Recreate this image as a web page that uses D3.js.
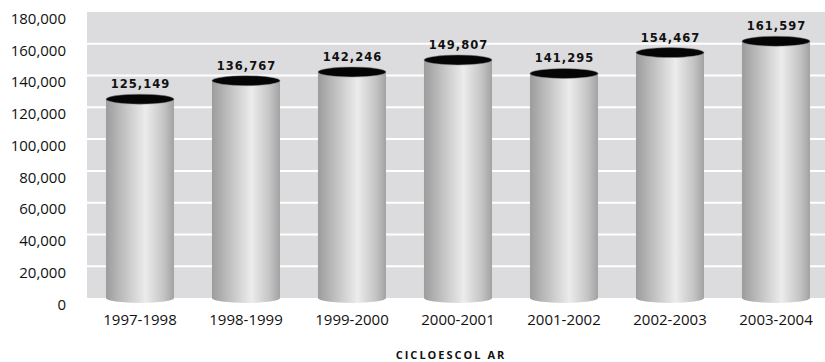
<!DOCTYPE html>
<html><head><meta charset="utf-8">
<script src="https://cdn.jsdelivr.net/npm/d3@7"></script>
<style>body{margin:0;background:#fff}svg{display:block}</style>
</head><body><svg id="c" width="825" height="362"></svg>
<script>
const categories = ["1997-1998","1998-1999","1999-2000","2000-2001","2001-2002","2002-2003","2003-2004"];
const values = [125149,136767,142246,149807,141295,154467,161597];
const valueLabels = ["125,149","136,767","142,246","149,807","141,295","154,467","161,597"];
const yTicks = [0,20000,40000,60000,80000,100000,120000,140000,160000,180000];
const xTitle = "CICLOESCOL AR";

const svg = d3.select("#c");
const x = d3.scaleBand().domain(categories).range([87,829]).paddingInner(0.358).paddingOuter(0.179);
const y = d3.scaleLinear().domain([0,180000]).range([298,12]);

const defs = svg.append("defs");
const g = defs.append("linearGradient").attr("id","cyl").attr("x1","0").attr("x2","1").attr("y1","0").attr("y2","0");
[[0,"#9c9c9c"],[0.2,"#b8b8b8"],[0.58,"#ececec"],[0.85,"#c4c4c4"],[1,"#a2a2a2"]].forEach(([o,c])=>g.append("stop").attr("offset",o).attr("stop-color",c));

svg.append("rect").attr("x",87).attr("y",y(180000)).attr("width",825-87).attr("height",y(0)-y(180000)).attr("fill","#dcdcde");
svg.append("g").selectAll("line").data(yTicks.filter(t=>t>0&&t<180000)).join("line")
  .attr("x1",87).attr("x2",825).attr("y1",d=>y(d)).attr("y2",d=>y(d))
  .attr("stroke","#fff").attr("stroke-width",2);

const yAxis = d3.axisLeft(y).tickValues(yTicks).tickSize(0).tickPadding(0).tickFormat(d3.format(","));
const ya = svg.append("g").attr("transform","translate(66,6.5)").call(yAxis);
ya.select(".domain").remove();
ya.selectAll("text").attr("font-family","'Open Sans',sans-serif").attr("font-size",15).attr("fill","#111");

const xAxis = d3.axisBottom(x).tickSize(0).tickPadding(0);
const xa = svg.append("g").attr("transform","translate(0,314)").call(xAxis);
xa.select(".domain").remove();
xa.selectAll("text").attr("font-family","'Open Sans',sans-serif").attr("font-size",15).attr("fill","#111");

const ry = 5;
const bars = svg.append("g").selectAll("g").data(categories).join("g");
bars.append("path").attr("d",(d,i)=>{
  const x0 = x(d), w = x.bandwidth(), rx = w/2, yt = y(values[i]), yb = y(0);
  return `M${x0},${yt} L${x0},${yb} A${rx},${ry} 0 0 0 ${x0+w},${yb} L${x0+w},${yt} Z`;
}).attr("fill","url(#cyl)");
bars.append("ellipse").attr("cx",d=>x(d)+x.bandwidth()/2).attr("cy",(d,i)=>y(values[i]))
  .attr("rx",x.bandwidth()/2).attr("ry",ry).attr("fill","#050505").attr("stroke","#8a8a8a").attr("stroke-width",0.5);
bars.append("text").attr("x",d=>x(d)+x.bandwidth()/2+0.5).attr("y",(d,i)=>y(values[i])-ry-6)
  .attr("text-anchor","middle").attr("font-family","'DejaVu Sans',sans-serif").attr("font-weight","bold")
  .attr("font-size",11.5).attr("letter-spacing","1px").attr("fill","#111").text((d,i)=>valueLabels[i]);

svg.append("text").attr("x",451).attr("y",359).attr("text-anchor","middle")
  .attr("font-family","'Open Sans',sans-serif").attr("font-weight","bold").attr("font-size",11)
  .attr("letter-spacing","2px").attr("fill","#111").text(xTitle);
</script></body></html>
